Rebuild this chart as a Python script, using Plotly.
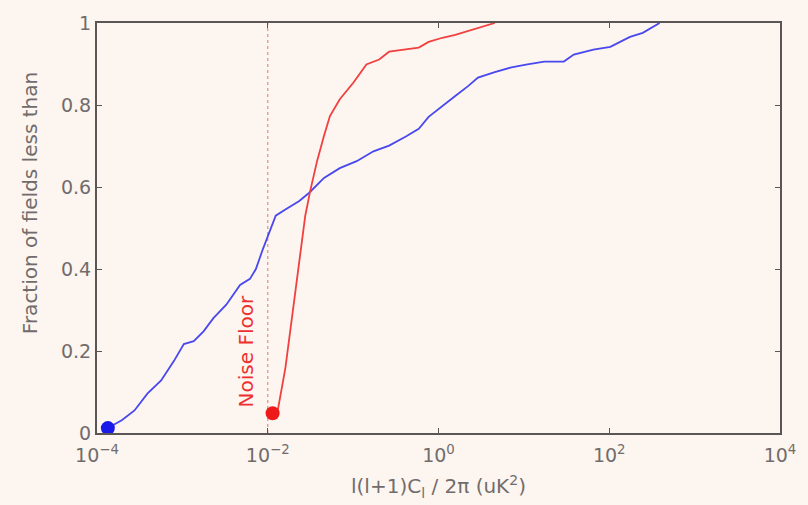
import plotly.graph_objects as go

# Blue curve (all fields)
blue_x = [1.34e-4, 1.95e-4, 2.75e-4, 3.89e-4, 5.64e-4, 7.98e-4, 1.04e-3, 1.36e-3, 1.77e-3,
          2.31e-3, 3.27e-3, 4.74e-3, 6.19e-3, 7.26e-3, 8.75e-3, 1.05e-2, 1.24e-2, 1.61e-2,
          2.34e-2, 3.06e-2, 4.56e-2, 6.98e-2, 0.110, 0.173, 0.264, 0.415, 0.587, 0.766,
          1.11, 1.57, 2.22, 2.90, 4.56, 7.16, 11.0, 17.3, 29.4, 38.4, 65.3, 103, 134,
          175, 247, 323, 389]
blue_y = [0.012, 0.031, 0.055, 0.096, 0.128, 0.176, 0.217, 0.224, 0.248,
          0.280, 0.313, 0.361, 0.376, 0.400, 0.448, 0.489, 0.530, 0.545,
          0.566, 0.586, 0.622, 0.646, 0.663, 0.687, 0.701, 0.723, 0.742, 0.771,
          0.798, 0.822, 0.846, 0.867, 0.880, 0.892, 0.899, 0.906, 0.906, 0.923,
          0.935, 0.942, 0.954, 0.966, 0.976, 0.990, 1.0]

# Red curve
red_x = [1.14e-2, 1.31e-2, 1.61e-2, 1.95e-2, 2.34e-2, 2.75e-2, 3.14e-2, 3.78e-2, 4.56e-2,
         5.35e-2, 6.98e-2, 0.101, 0.143, 0.202, 0.264, 0.384, 0.587, 0.766, 1.11,
         1.57, 2.47, 3.78, 4.56]
red_y = [0.048, 0.055, 0.159, 0.289, 0.410, 0.530, 0.590, 0.663, 0.725,
         0.773, 0.814, 0.855, 0.899, 0.911, 0.930, 0.935, 0.940, 0.954, 0.964,
         0.971, 0.983, 0.995, 1.0]

noise_floor = 1e-2

x_tickvals = [1e-4, 1e-2, 1e0, 1e2, 1e4]
x_ticktext = ["10<sup>−4</sup>", "10<sup>−2</sup>", "10<sup>0</sup>", "10<sup>2</sup>", "10<sup>4</sup>"]
y_tickvals = [0, 0.2, 0.4, 0.6, 0.8, 1]
y_ticktext = ["0", "0.2", "0.4", "0.6", "0.8", "1"]

bg = "#fdf5ef"
axis_col = "#5a5656"
text_col = "#716c6c"
fam = "DejaVu Sans, Arial"

fig = go.Figure()

fig.add_trace(go.Scatter(x=[noise_floor, noise_floor], y=[0, 1], mode="lines",
                         line=dict(color="#e88a8a", width=1.2, dash="dot"),
                         showlegend=False, hoverinfo="skip"))
fig.add_trace(go.Scatter(x=blue_x, y=blue_y, mode="lines",
                         line=dict(color="#4848ee", width=1.8),
                         showlegend=False))
fig.add_trace(go.Scatter(x=red_x, y=red_y, mode="lines",
                         line=dict(color="#f04040", width=1.8),
                         showlegend=False))
fig.add_trace(go.Scatter(x=[blue_x[0]], y=[blue_y[0]], mode="markers",
                         marker=dict(color="#1a1ae8", size=14),
                         showlegend=False))
fig.add_trace(go.Scatter(x=[red_x[0]], y=[red_y[0]], mode="markers",
                         marker=dict(color="#ee1a1a", size=14),
                         showlegend=False))

fig.add_annotation(x=-2.25, y=0.2, xref="x", yref="y", text="Noise Floor",
                   textangle=-90, showarrow=False,
                   font=dict(color="#ee3030", size=20, family=fam))

# Axis titles
fig.add_annotation(x=-0.097, y=0.56, xref="paper", yref="paper",
                   text="Fraction of fields less than", textangle=-90, showarrow=False,
                   xanchor="center", yanchor="middle",
                   font=dict(size=20, color=text_col, family=fam))
fig.add_annotation(x=0.5, y=-0.13, xref="paper", yref="paper",
                   text="l(l+1)C<sub>l</sub> / 2π (uK<sup>2</sup>)", showarrow=False,
                   xanchor="center", yanchor="middle",
                   font=dict(size=20, color=text_col, family=fam))

fig.update_layout(
    width=808, height=505,
    margin=dict(l=97, r=18, t=18, b=72),
    paper_bgcolor=bg, plot_bgcolor=bg,
    font=dict(family=fam, color=text_col, size=19),
)
fig.update_xaxes(type="log", range=[-4, 4], tickvals=x_tickvals, ticktext=x_ticktext,
                 showgrid=False, zeroline=False, showline=True, linecolor=axis_col,
                 linewidth=2, mirror="ticks", ticks="inside", ticklen=5,
                 ticklabelstandoff=4,
                 tickcolor=axis_col, tickfont=dict(size=19, family=fam, color=text_col))
fig.update_yaxes(range=[0, 1], tickvals=y_tickvals, ticktext=y_ticktext,
                 showgrid=False, zeroline=False, showline=True, linecolor=axis_col,
                 linewidth=2, mirror="ticks", ticks="inside", ticklen=5,
                 tickcolor=axis_col, tickfont=dict(size=19, family=fam, color=text_col))

fig.write_html("out.html")
